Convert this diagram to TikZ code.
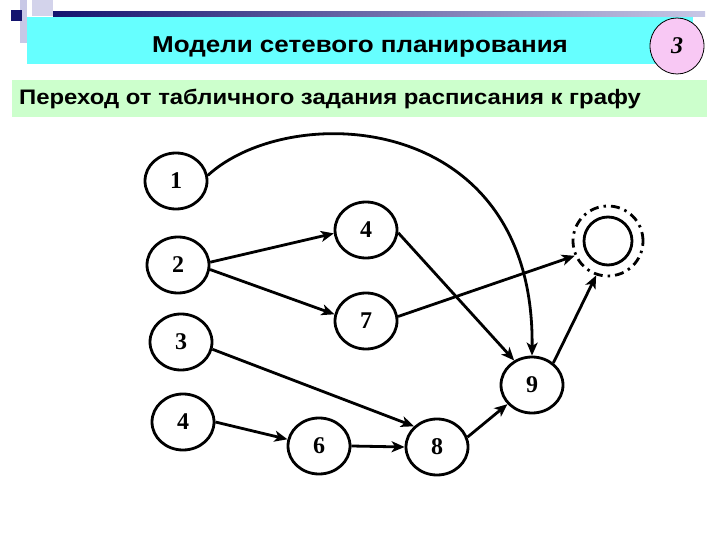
\documentclass[tikz,border=0pt]{standalone}
\usepackage{fontspec}
\setmainfont{Liberation Serif}
\newfontfamily\arialf{Liberation Sans}
\usetikzlibrary{shapes.geometric,arrows.meta}
\definecolor{navyc}{HTML}{14146E}
\definecolor{lavc}{HTML}{C8C8E6}
\definecolor{cyanbar}{HTML}{66FFFF}
\definecolor{greenbar}{HTML}{CCFFCC}
\definecolor{pinkc}{HTML}{F8C8F4}
\begin{document}
\begin{tikzpicture}[x=1pt,y=-1pt,
  vtx/.style={ellipse,draw,line width=2.8pt,minimum width=62pt,minimum height=56pt,inner sep=0pt,
    font=\fontsize{24}{24}\selectfont\bfseries},
  edge/.style={line width=2.8pt,-{Stealth[length=13pt,width=11pt,inset=3.5pt]}},
  bartext/.style={inner sep=0pt},
]
\useasboundingbox (0,0) rectangle (720,540);
\fill[white] (0,0) rectangle (720,540);
% decorations top left
\fill[lavc] (20,0) rectangle (27,43);
\fill[lavc!80!white] (32,0) rectangle (53,16);
\shade[left color=navyc,right color=lavc] (53,12) rectangle (705,17);
\fill[navyc] (11,10) rectangle (22,21);
% title bar
\fill[cyanbar] (27,17) rectangle (693,64);
\node[bartext,anchor=base,font=\arialf\bfseries\fontsize{23}{23}\selectfont] (title) at (360,53) {\scalebox{1.13}[1]{Модели сетевого планирования}};
\node[ellipse,draw,line width=0.8pt,fill=pinkc,minimum width=54pt,minimum height=56pt,inner sep=0pt,
  font=\fontsize{24}{24}\selectfont\bfseries\itshape] (num) at (677,46) {3};
% subtitle bar
\fill[greenbar] (12,80) rectangle (707,117);
\node[bartext,anchor=base west,font=\arialf\bfseries\fontsize{21}{21}\selectfont] (sub) at (19,105) {\scalebox{1.137}[1]{Переход от табличного задания расписания к графу}};
% graph
\node[vtx] (n1) at (176,181) {1};
\node[vtx] (n4a) at (366,230) {4};
\node[vtx] (n2) at (178,265) {2};
\node[vtx] (n7) at (366,321) {7};
\node[vtx] (n3) at (181,342) {3};
\node[vtx] (n9) at (532,385) {9};
\node[vtx] (n4b) at (183,422) {4};
\node[vtx] (n6) at (319,446) {6};
\node[vtx] (n8) at (437,447) {8};
\node[circle,draw,line width=2.8pt,minimum size=48pt,inner sep=0pt] (fin) at (608,241) {};
\node[circle,draw,line width=2.8pt,minimum size=70pt,inner sep=0pt,
  dash pattern=on 9pt off 5pt on 2.5pt off 5pt] (ring) at (608,241) {};
% edges
\draw[edge] (n1.10) .. controls (290,100) and (535,110) .. (n9.90);
\draw[edge] (n2.5) -- (n4a.186);
\draw[edge] (n2.-8) -- (n7.168);
\draw[edge] (n4a.-5) -- (n9.126);
\draw[edge] (n7.8) -- (ring.204);
\draw[edge] (n9.46) -- (ring.251);
\draw[edge] (n3.-13) -- (n8.138);
\draw[edge] (n4b.0) -- (n6.168);
\draw[edge] (n6.0) -- (n8.180);
\draw[edge] (n8.18) -- (n9.218);
\end{tikzpicture}
\end{document}
